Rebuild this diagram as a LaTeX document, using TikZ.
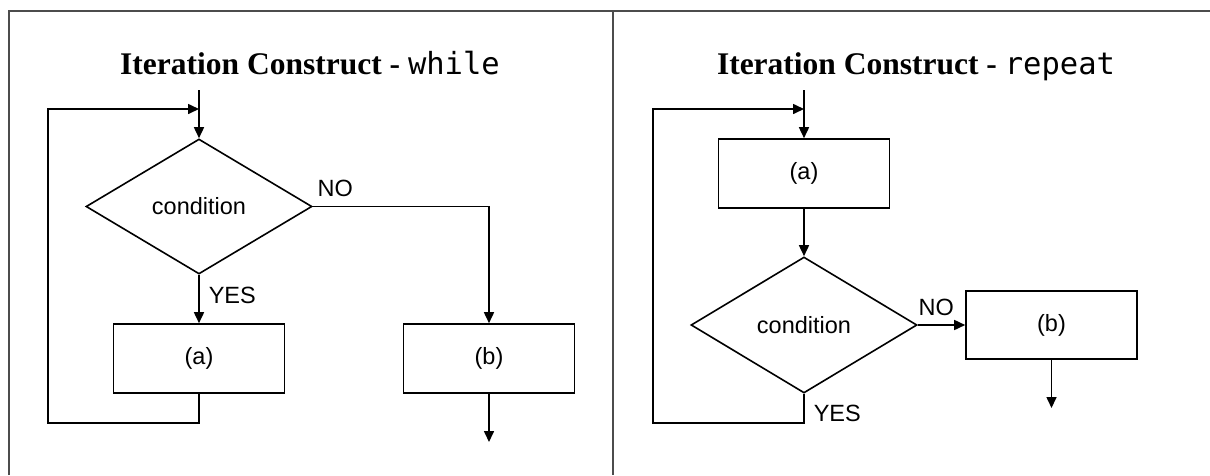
\documentclass[tikz,border=0pt]{standalone}
\usepackage{fontspec}
\setmainfont{Liberation Serif}
\setsansfont{Liberation Sans}
\setmonofont{DejaVu Sans Mono}
\usetikzlibrary{shapes.geometric,arrows.meta}

\begin{document}
\begin{tikzpicture}[x=1pt,y=-1pt,line width=1.6pt,
    box/.style={shape=rectangle,draw=black,minimum width=171pt,minimum height=69pt,
        font=\sffamily\fontsize{23.5}{28}\selectfont},
    cond/.style={shape=diamond,draw=black,minimum width=226pt,minimum height=135pt,
        inner sep=0pt,font=\sffamily\fontsize{23.5}{28}\selectfont},
    lbl/.style={font=\sffamily\fontsize{23.5}{28}\selectfont,inner sep=0pt},
    title/.style={anchor=base,inner sep=0pt,font=\bfseries\fontsize{31.5}{36}\selectfont},
    flow/.style={-{Triangle[length=11pt,width=10pt]}}]
    \useasboundingbox (0,0) rectangle (1210,475);

    % frame round the two panels
    \draw[line width=2pt,color=black!70] (8.5,475) -- (8.5,11) -- (1210,11);
    \draw[line width=2pt,color=black!70] (613,11) -- (613,475);

    % while
    \node[title] (T1) at (310,74) {Iteration Construct - \textnormal{\ttfamily\fontsize{30.5}{36}\selectfont while}};
    \coordinate (in1) at (199,90);
    \coordinate (back1) at (199,109);
    \node[cond] (C1) at (199,206.5) {condition};
    \node[box] (A1) at (199,358.5) {(a)};
    \node[box] (B1) at (489,358.5) {(b)};
    \coordinate (out1) at (489,442);

    \path[flow] (in1) edge (C1);
    \path[flow] (C1.south) edge (A1.north);
    \draw[flow] (C1.east) -| (B1.north);
    \path[flow] (B1.south) edge (out1);
    \draw[flow] (A1.south) -- ++(0,29) -| ([xshift=-151pt]back1) -- (back1);
    \node[lbl,anchor=base west] (no1) at ([shift={(4,-10)}]C1.east) {NO};
    \node[lbl,anchor=base west] (yes1) at ([shift={(9,29)}]C1.south) {YES};

    % repeat
    \node[title] (T2) at (916,74) {Iteration Construct - \textnormal{\ttfamily\fontsize{30.5}{36}\selectfont repeat}};
    \coordinate (in2) at (804,90);
    \coordinate (back2) at (804,109);
    \node[box] (A2) at (804,173.5) {(a)};
    \node[cond,minimum height=136pt] (C2) at (804,325) {condition};
    \node[box,minimum height=68pt] (B2) at (1051.5,325) {(b)};
    \coordinate (out2) at (1051.5,408);

    \path[flow] (in2) edge (A2);
    \path[flow] (A2) edge (C2);
    \path[flow] (C2.east) edge (B2.west);
    \path[flow] (B2.south) edge (out2);
    \draw[flow] (C2.south) -- ++(0,29) -| ([xshift=-151pt]back2) -- (back2);
    \node[lbl,anchor=base west] (no2) at ([shift={(0,-10)}]C2.east) {NO};
    \node[lbl,anchor=base west] (yes2) at ([shift={(9,28)}]C2.south) {YES};
\end{tikzpicture}
\end{document}
